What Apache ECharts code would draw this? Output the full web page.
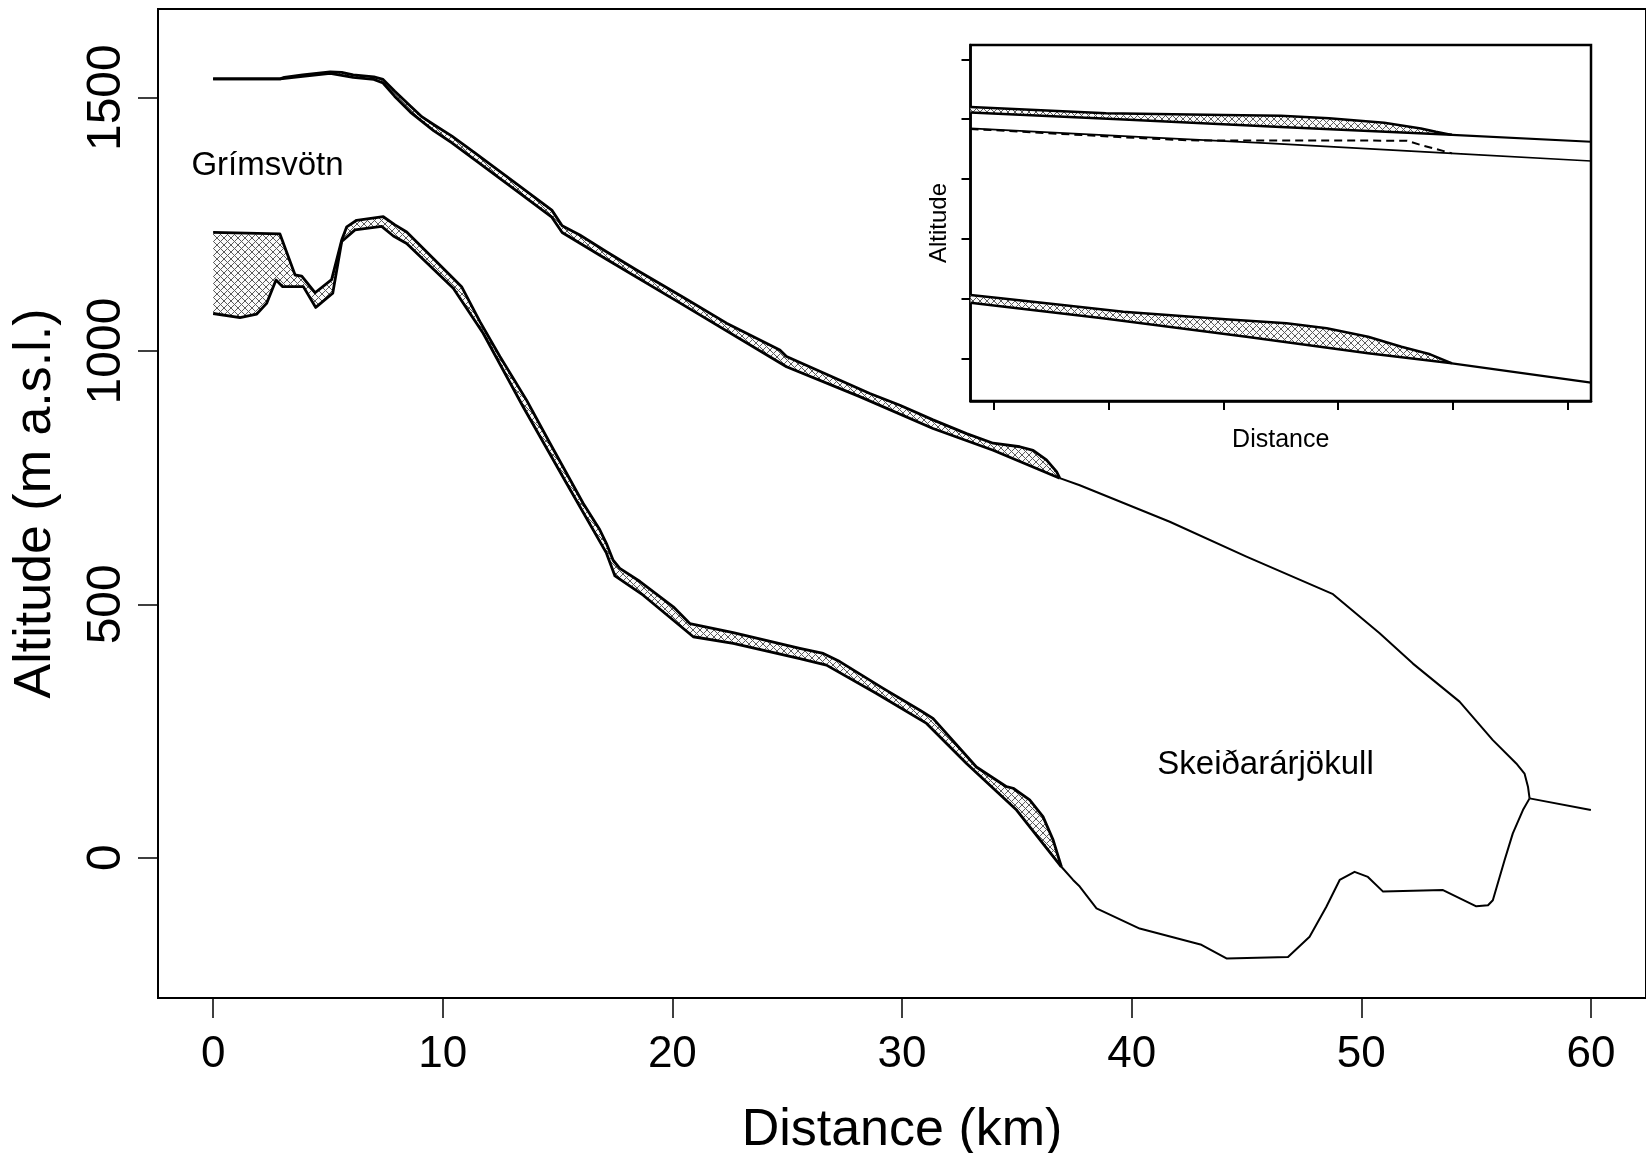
<!DOCTYPE html>
<html><head><meta charset="utf-8">
<script src="https://cdn.jsdelivr.net/npm/echarts@6/dist/echarts.min.js"></script>
<style>html,body{margin:0;padding:0;background:#fff}#c{width:1646px;height:1153px}</style>
</head><body><div id="c"></div>
<script>
const FONT = '"Liberation Sans", Arial, Helvetica, sans-serif';

// ---- main profile data: [distance km, altitude m a.s.l.] ----
const surfaceUpper = [[0,1537],[2.92,1537],[3.1,1540],[3.9,1545],[5.1,1551],[5.6,1550],[6.1,1545],[7.0,1541],[7.4,1536],[7.9,1513],[8.6,1483],[9.1,1462],[9.6,1447],[10.4,1424],[11.4,1391],[13.1,1334],[14.75,1278],[15.2,1247],[15.97,1229],[17.13,1196],[18.44,1160],[20.47,1106],[22.36,1055],[24.68,1002],[24.97,989],[26.71,954],[28.6,916],[29.91,893],[31.35,864],[32.81,837],[33.97,818],[35.13,811],[35.71,804],[36.29,785],[36.73,762],[36.87,749]];
const surfaceLower = [[0,1537],[2.92,1537],[3.9,1542],[5.1,1548],[6.1,1540],[7.0,1536],[7.4,1529],[7.9,1503],[8.6,1471],[9.6,1435],[10.4,1411],[11.4,1377],[13.1,1320],[14.75,1264],[15.2,1234],[17.13,1181],[20.47,1091],[24.97,969],[28.16,910],[31.35,847],[33.97,804],[36.87,749]];
const surfaceTongue = [[36.87,749],[37.74,735],[41.66,663],[45.0,594],[48.77,520],[50.8,443],[52.25,383],[54.28,308],[55.73,232],[56.75,186],[57.11,166],[57.26,140],[57.33,117]];
const proglacial = [[57.33,117],[60.0,94]];
const bedTongue = [[36.94,-18],[37.45,-44],[37.74,-57],[38.47,-100],[40.35,-140],[43.04,-172],[44.13,-199],[46.81,-196],[47.75,-156],[48.48,-97],[49.06,-44],[49.71,-28],[50.29,-38],[50.95,-67],[53.56,-64],[55.01,-96],[55.52,-94],[55.73,-84],[56.24,-5],[56.6,48],[57.04,94],[57.33,117]];
const pathUpper = [[0,1234],[2.91,1231],[3.57,1150],[3.86,1148],[4.44,1115],[5.16,1141],[5.6,1219],[5.82,1245],[6.25,1258],[7.41,1265],[7.92,1249],[8.43,1235],[10.31,1150],[10.82,1127],[11.62,1058],[12.49,989],[13.65,903],[14.67,818],[16.12,699],[16.84,647],[17.13,620],[17.42,587],[17.71,571],[18.59,545],[20.04,495],[20.76,462],[22.65,444],[25.55,413],[26.57,403],[27.29,387],[29.18,334],[30.78,291],[31.35,275],[33.24,179],[34.55,140],[34.84,137],[35.56,114],[36.14,81],[36.58,35],[36.94,-18]];
const pathLower = [[0,1074],[1.17,1066],[1.9,1073],[2.33,1094],[2.74,1140],[3.03,1127],[3.93,1127],[4.47,1086],[5.21,1114],[5.6,1216],[6.18,1239],[7.34,1246],[7.85,1227],[8.43,1212],[10.46,1124],[11.76,1035],[13.5,890],[15.39,739],[17.13,601],[17.5,556],[18.73,518],[20.91,436],[22.65,423],[25.55,393],[26.71,380],[28.89,324],[31.07,265],[32.81,186],[34.99,94],[36.94,-18]];
const mainXTicks = [0,10,20,30,40,50,60];
const mainYTicks = [0,500,1000,1500];
const placeNames = [{name:'Grímsvötn', value:[2.37,1365]},{name:'Skeiðarárjökull', value:[45.83,184]}];

// ---- inset (schematic, unlabelled tick units) ----
const insetTicks = [0,1,2,3,4,5];
const insetTopUpper = [[-0.2,4.205],[0.98,4.1],[2.0,4.07],[2.5,4.057],[2.92,4.013],[3.4,3.94],[3.72,3.845],[3.85,3.79],[3.99,3.737]];
const insetTopLower = [[-0.2,4.11],[1.09,3.997],[2.5,3.87],[3.99,3.737]];
const insetTopRest = [[3.99,3.737],[5.2,3.622]];
const insetMidSolid = [[-0.2,3.846],[1.09,3.72],[2.41,3.595],[3.99,3.428],[5.2,3.299]];
const insetMidDashed = [[-0.2,3.836],[1.09,3.70],[1.7,3.645],[3.6,3.64],[3.72,3.567],[3.99,3.428]];
const insetLowUpper = [[-0.2,1.058],[0.064,1.003],[0.6,0.891],[1.13,0.779],[2.02,0.652],[2.55,0.585],[2.9,0.502],[3.26,0.361],[3.55,0.194],[3.8,0.067],[3.99,-0.084]];
const insetLowLower = [[-0.2,0.93],[0.95,0.669],[2.2,0.361],[3.26,0.084],[3.99,-0.084]];
const insetLowRest = [[3.99,-0.084],[5.2,-0.408]];

function makeHatch(size, color) {
  const c = document.createElement('canvas');
  c.width = size; c.height = size;
  const g = c.getContext('2d');
  g.fillStyle = '#fafafa'; g.fillRect(0, 0, size, size);
  g.strokeStyle = color; g.lineWidth = 1;
  g.beginPath();
  g.moveTo(-1, -1); g.lineTo(size + 1, size + 1);
  g.moveTo(-1, size + 1); g.lineTo(size + 1, -1);
  g.stroke();
  return c;
}
const hatch = { image: makeHatch(7, '#5a5a5a'), repeat: 'repeat' };

function hatchSeries(upper, lower, gi) {
  return {
    type: 'custom', xAxisIndex: gi, yAxisIndex: gi, silent: true, animation: false, z: 2,
    data: [[upper[0][0], upper[0][1]]],
    renderItem: function (params, api) {
      const pts = upper.concat(lower.slice().reverse()).map(p => api.coord(p));
      return { type: 'polygon', shape: { points: pts }, style: { fill: hatch, stroke: null } };
    }
  };
}
function lineSeries(data, gi, width, dashed) {
  return {
    type: 'line', xAxisIndex: gi, yAxisIndex: gi, data: data, symbol: 'none', showSymbol: false,
    silent: true, animation: false, z: 3,
    lineStyle: { color: '#000', width: width, type: dashed ? [8, 5] : 'solid', join: 'round', opacity: 1 }
  };
}

const chart = echarts.init(document.getElementById('c'), null, { renderer: 'canvas' });
const axisTxt = { color: '#000', fontFamily: FONT };
chart.setOption({
  backgroundColor: '#fff',
  animation: false,
  grid: [
    { left: 158, top: 9, right: 0, height: 989, containLabel: false, outerBoundsMode: 'none',
      show: true, borderColor: '#000', borderWidth: 2, backgroundColor: 'transparent' },
    { left: 970.5, top: 45, width: 620.5, height: 356, containLabel: false, outerBoundsMode: 'none',
      show: true, borderColor: '#000', borderWidth: 2.5, backgroundColor: '#fff' }
  ],
  xAxis: [
    { type: 'value', gridIndex: 0, min: -2.4, max: 62.4,
      axisLine: { show: true, onZero: false, lineStyle: { color: '#000', width: 2 } },
      axisTick: { show: true, length: 20, customValues: mainXTicks, lineStyle: { color: '#000', width: 1.5 } },
      axisLabel: Object.assign({ show: true, customValues: mainXTicks, margin: 35, fontSize: 44, formatter: v => String(v) }, axisTxt),
      splitLine: { show: false },
      name: 'Distance (km)', nameLocation: 'middle', nameGap: 107,
      nameTextStyle: Object.assign({ fontSize: 52 }, axisTxt) },
    { type: 'value', gridIndex: 1, min: -0.2, max: 5.2,
      axisLine: { show: true, onZero: false, lineStyle: { color: '#000', width: 2.5 } },
      axisTick: { show: true, length: 9, customValues: insetTicks, lineStyle: { color: '#000', width: 2 } },
      axisLabel: { show: false },
      splitLine: { show: false },
      name: 'Distance', nameLocation: 'middle', nameGap: 27,
      nameTextStyle: Object.assign({ fontSize: 25 }, axisTxt) }
  ],
  yAxis: [
    { type: 'value', gridIndex: 0, min: -277, max: 1675,
      axisLine: { show: true, onZero: false, lineStyle: { color: '#000', width: 2 } },
      axisTick: { show: true, length: 20, customValues: mainYTicks, lineStyle: { color: '#000', width: 1.5 } },
      axisLabel: Object.assign({ show: true, customValues: mainYTicks, rotate: 90, margin: 27, fontSize: 48, formatter: v => String(v) }, axisTxt),
      splitLine: { show: false },
      name: 'Altitude (m a.s.l.)', nameLocation: 'middle', nameGap: 96,
      nameTextStyle: Object.assign({ fontSize: 52 }, axisTxt) },
    { type: 'value', gridIndex: 1, min: -0.714, max: 5.24,
      axisLine: { show: true, onZero: false, lineStyle: { color: '#000', width: 2.5 } },
      axisTick: { show: true, length: 9, customValues: insetTicks, lineStyle: { color: '#000', width: 2 } },
      axisLabel: { show: false },
      splitLine: { show: false },
      name: 'Altitude', nameLocation: 'middle', nameGap: 19,
      nameTextStyle: Object.assign({ fontSize: 24 }, axisTxt) }
  ],
  series: [
    hatchSeries(surfaceUpper, surfaceLower, 0),
    hatchSeries(pathUpper, pathLower, 0),
    lineSeries(surfaceUpper, 0, 2.8),
    lineSeries(surfaceLower, 0, 2.8),
    lineSeries(surfaceTongue, 0, 2),
    lineSeries(proglacial, 0, 2),
    lineSeries(bedTongue, 0, 2),
    lineSeries(pathUpper, 0, 2.8),
    lineSeries(pathLower, 0, 2.8),
    { type: 'scatter', xAxisIndex: 0, yAxisIndex: 0, symbolSize: 0, silent: true, animation: false, z: 4,
      itemStyle: { opacity: 1 },
      data: placeNames,
      label: { show: true, position: [0, 0], align: 'center', verticalAlign: 'middle', formatter: '{b}',
               fontSize: 33, color: '#000', opacity: 1, fontFamily: FONT } },
    hatchSeries(insetTopUpper, insetTopLower, 1),
    hatchSeries(insetLowUpper, insetLowLower, 1),
    lineSeries(insetTopUpper, 1, 2.5),
    lineSeries(insetTopLower, 1, 2.5),
    lineSeries(insetTopRest, 1, 2.2),
    lineSeries(insetMidSolid, 1, 1.6),
    lineSeries(insetMidDashed, 1, 2, true),
    lineSeries(insetLowUpper, 1, 2.5),
    lineSeries(insetLowLower, 1, 2.5),
    lineSeries(insetLowRest, 1, 2.2)
  ]
});
</script></body></html>
